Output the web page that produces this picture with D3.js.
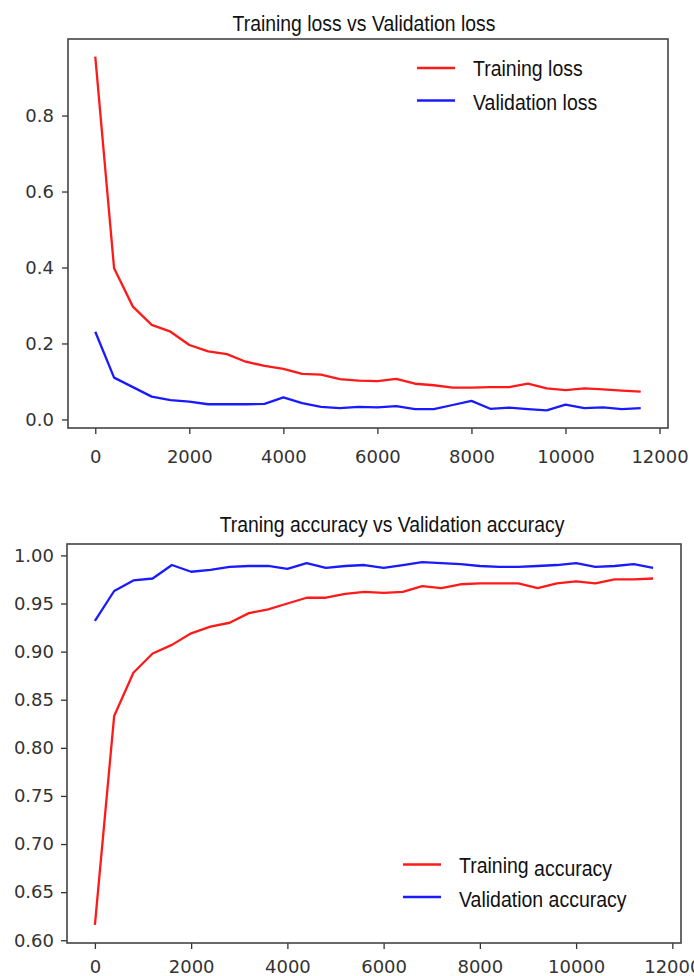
<!DOCTYPE html>
<html>
<head>
<meta charset="utf-8">
<script src="https://cdn.jsdelivr.net/npm/d3@7"></script>
<style>
  body { margin: 0; background: #fff; }
  svg { display: block; }
  .tick text { font-family: "DejaVu Sans", sans-serif; fill: #333; }
  .lbl { font-family: "Liberation Sans", Arial, sans-serif; fill: #111; }
</style>
</head>
<body>
<div id="chart"></div>
<script>
// Creating APP object for storing all Methods
APP = {};

/*****
Data
*****/
// training steps (x axis)
const steps = [0, 400, 800, 1200, 1600, 2000, 2400, 2800, 3200, 3600,
               4000, 4400, 4800, 5200, 5600, 6000, 6400, 6800, 7200, 7600,
               8000, 8400, 8800, 9200, 9600, 10000, 10400, 10800, 11200, 11600];

const trainLoss = [0.955, 0.398, 0.297, 0.249, 0.231, 0.196, 0.179, 0.172, 0.152, 0.141,
                   0.133, 0.120, 0.118, 0.106, 0.102, 0.101, 0.107, 0.094, 0.090, 0.084,
                   0.084, 0.085, 0.085, 0.094, 0.082, 0.077, 0.082, 0.079, 0.076, 0.073];
const valLoss = [0.231, 0.110, 0.085, 0.060, 0.051, 0.047, 0.040, 0.040, 0.040, 0.041,
                 0.058, 0.043, 0.033, 0.030, 0.033, 0.032, 0.035, 0.027, 0.027, 0.038,
                 0.049, 0.028, 0.031, 0.027, 0.024, 0.039, 0.030, 0.032, 0.027, 0.030];

const trainAcc = [0.616, 0.833, 0.878, 0.898, 0.907, 0.919, 0.926, 0.930, 0.940, 0.944,
                  0.950, 0.956, 0.956, 0.960, 0.962, 0.961, 0.962, 0.968, 0.966, 0.970,
                  0.971, 0.971, 0.971, 0.966, 0.971, 0.973, 0.971, 0.975, 0.975, 0.976];
const valAcc = [0.932, 0.963, 0.974, 0.976, 0.990, 0.983, 0.985, 0.988, 0.989, 0.989,
                0.986, 0.992, 0.987, 0.989, 0.990, 0.987, 0.990, 0.993, 0.992, 0.991,
                0.989, 0.988, 0.988, 0.989, 0.990, 0.992, 0.988, 0.989, 0.991, 0.987];

// tick labels
const xTicks = [0, 2000, 4000, 6000, 8000, 10000, 12000];
const lossTicks = [0.0, 0.2, 0.4, 0.6, 0.8];
const accTicks = [0.60, 0.65, 0.70, 0.75, 0.80, 0.85, 0.90, 0.95, 1.00];

const titles = ["Training loss vs Validation loss", "Traning accuracy vs Validation accuracy"];
const lossNames = ["Training loss", "Validation loss"];
const accNames = [["Training", "accuracy"], ["Validation accuracy"]];

/*****
Initializing the whole page
*****/
APP.main = function(){
    const svg = d3.select("#chart").append("svg")
        .attr("width", 694).attr("height", 976);

    APP.drawPanel(svg, {
        box: {left: 68, top: 39, right: 668, bottom: 428},
        series: [trainLoss, valLoss],
        yTicks: lossTicks, yFormat: d3.format(".1f"),
        yPad: 8, xPad: 16,
        title: titles[0], titleX: 364, titleY: 31,
        names: lossNames.map(n => [n]),
        legend: {x1: 417, x2: 455, tx: 473, rows: [68, 100.5], base: [76, 110]}
    });

    APP.drawPanel(svg, {
        box: {left: 67, top: 544, right: 681, bottom: 943},
        series: [trainAcc, valAcc],
        yTicks: accTicks, yFormat: d3.format(".2f"),
        yPad: 7, xPad: 11,
        title: titles[1], titleX: 392, titleY: 531.5,
        names: accNames,
        legend: {x1: 403, x2: 441, tx: 459, rows: [864.5, 897], base: [873, 907]}
    });
};

/*****
One matplotlib-like axes box with two lines
*****/
APP.drawPanel = function(svg, o){
    const colors = ["#ff1a1a", "#1a1aff"];
    const b = o.box;

    // padded extents, like matplotlib autoscale margins
    const all = o.series[0].concat(o.series[1]);
    const yMin = d3.min(all), yMax = d3.max(all);
    const yM = (yMax - yMin) * 0.05;
    const xMax = d3.max(steps), xM = xMax * 0.05;

    const x = d3.scaleLinear().domain([-xM, xMax + xM]).range([b.left, b.right]);
    const y = d3.scaleLinear().domain([yMin - yM, yMax + yM]).range([b.bottom, b.top]);

    const g = svg.append("g");

    // axes
    const xAxis = g.append("g")
        .attr("transform", "translate(0," + b.bottom + ")")
        .call(d3.axisBottom(x).tickValues(xTicks).tickFormat(d3.format("d"))
            .tickSize(6).tickPadding(o.xPad));
    const yAxis = g.append("g")
        .attr("transform", "translate(" + b.left + ",0)")
        .call(d3.axisLeft(y).tickValues(o.yTicks).tickFormat(o.yFormat)
            .tickSize(6).tickPadding(o.yPad));
    [xAxis, yAxis].forEach(a => {
        a.select(".domain").remove();
        a.selectAll(".tick line").attr("stroke", "#333").attr("stroke-width", 1.3);
        a.selectAll(".tick text").attr("font-size", 18);
    });

    // frame
    g.append("rect")
        .attr("x", b.left).attr("y", b.top)
        .attr("width", b.right - b.left).attr("height", b.bottom - b.top)
        .attr("fill", "none").attr("stroke", "#444").attr("stroke-width", 1.6);

    // lines
    const line = d3.line().x((d, i) => x(steps[i])).y(d => y(d));
    o.series.forEach((s, i) => {
        g.append("path").datum(s)
            .attr("d", line)
            .attr("fill", "none")
            .attr("stroke", colors[i])
            .attr("stroke-width", 2.3)
            .attr("stroke-linejoin", "round");
    });

    // title (the picture is a little stretched vertically)
    g.append("g")
        .attr("transform", "translate(" + o.titleX + "," + o.titleY + ") scale(1,1.12)")
        .append("text").attr("class", "lbl")
        .attr("text-anchor", "middle").attr("font-size", 19.4)
        .text(o.title);

    // legend
    const L = o.legend;
    o.names.forEach((parts, i) => {
        g.append("line")
            .attr("x1", L.x1).attr("x2", L.x2)
            .attr("y1", L.rows[i]).attr("y2", L.rows[i])
            .attr("stroke", colors[i]).attr("stroke-width", 2.3);
        const t = g.append("g")
            .attr("transform", "translate(" + L.tx + "," + L.base[i] + ") scale(1,1.1)")
            .append("text").attr("class", "lbl").attr("font-size", 19.5);
        parts.forEach((p, k) => {
            t.append("tspan")
                .attr("dy", k === 0 ? 0 : 2.5)
                .text(k === 0 ? p : " " + p);
        });
    });
};

APP.main();
</script>
</body>
</html>
